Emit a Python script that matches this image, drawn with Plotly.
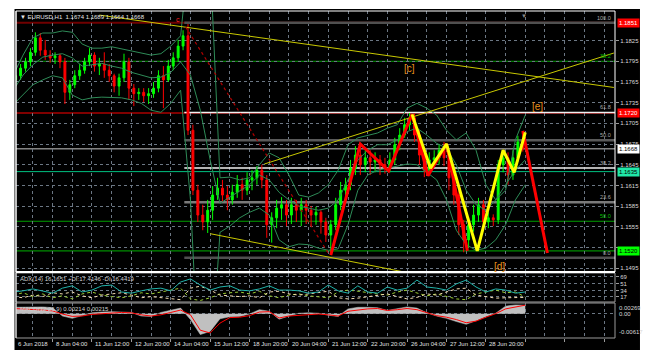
import plotly.graph_objects as go
from plotly.subplots import make_subplots

# ---------------- data ----------------
# time axis: hourly bar index counted from 6 Jun 20:00 (H1 chart, candles aggregated to 4h)
candle_bar = list(range(2, 418, 4))
open_ = [1.1768, 1.1774, 1.1785, 1.1794, 1.1808, 1.1829, 1.1811, 1.1804, 1.1800, 1.1803,
         1.1794, 1.1750, 1.1761, 1.1774, 1.1782, 1.1794, 1.1804, 1.1788, 1.1791, 1.1782,
         1.1774, 1.1759, 1.1771, 1.1794, 1.1756, 1.1748, 1.1750, 1.1745, 1.1748, 1.1756,
         1.1774, 1.1768, 1.1788, 1.1800, 1.1817, 1.1832, 1.1695, 1.1608, 1.1572, 1.1562,
         1.1579, 1.1601, 1.1611, 1.1601, 1.1594, 1.1605, 1.1616, 1.1608, 1.1623, 1.1626,
         1.1637, 1.1623, 1.1558, 1.1568, 1.1582, 1.1587, 1.1572, 1.1587, 1.1579, 1.1587,
         1.1579, 1.1572, 1.1576, 1.1562, 1.1543, 1.1558, 1.1587, 1.1608, 1.1616, 1.1640,
         1.1659, 1.1645, 1.1655, 1.1649, 1.1652, 1.1645, 1.1640, 1.1652, 1.1674, 1.1688,
         1.1703, 1.1713, 1.1688, 1.1659, 1.1637, 1.1652, 1.1655, 1.1666, 1.1655, 1.1626,
         1.1601, 1.1558, 1.1536, 1.1558, 1.1572, 1.1587, 1.1562, 1.1568, 1.1565, 1.1645,
         1.1655, 1.1630, 1.1655, 1.1678]
high = [1.1780, 1.1791, 1.1800, 1.1814, 1.1837, 1.1836, 1.1826, 1.1811, 1.1808, 1.1806,
        1.1800, 1.1768, 1.1782, 1.1791, 1.1800, 1.1814, 1.1808, 1.1800, 1.1808, 1.1791,
        1.1777, 1.1777, 1.1806, 1.1800, 1.1762, 1.1756, 1.1756, 1.1756, 1.1765, 1.1782,
        1.1788, 1.1797, 1.1808, 1.1826, 1.1840, 1.1849, 1.1703, 1.1616, 1.1587, 1.1594,
        1.1614, 1.1626, 1.1623, 1.1614, 1.1616, 1.1630, 1.1626, 1.1634, 1.1637, 1.1643,
        1.1645, 1.1630, 1.1576, 1.1594, 1.1598, 1.1594, 1.1597, 1.1594, 1.1597, 1.1594,
        1.1585, 1.1584, 1.1579, 1.1568, 1.1565, 1.1597, 1.1620, 1.1626, 1.1652, 1.1672,
        1.1674, 1.1666, 1.1666, 1.1663, 1.1659, 1.1655, 1.1663, 1.1684, 1.1698, 1.1713,
        1.1720, 1.1719, 1.1695, 1.1669, 1.1663, 1.1666, 1.1675, 1.1678, 1.1659, 1.1634,
        1.1608, 1.1565, 1.1568, 1.1587, 1.1597, 1.1594, 1.1576, 1.1573, 1.1652, 1.1666,
        1.1663, 1.1666, 1.1687, 1.1693]
low = [1.1762, 1.1768, 1.1780, 1.1788, 1.1803, 1.1803, 1.1797, 1.1793, 1.1791, 1.1785,
       1.1733, 1.1739, 1.1756, 1.1768, 1.1777, 1.1788, 1.1780, 1.1775, 1.1771, 1.1765,
       1.1750, 1.1745, 1.1765, 1.1739, 1.1730, 1.1739, 1.1736, 1.1733, 1.1742, 1.1750,
       1.1727, 1.1765, 1.1782, 1.1794, 1.1811, 1.1688, 1.1601, 1.1562, 1.1550, 1.1546,
       1.1565, 1.1594, 1.1591, 1.1579, 1.1587, 1.1597, 1.1594, 1.1601, 1.1608, 1.1616,
       1.1611, 1.1539, 1.1532, 1.1553, 1.1565, 1.1556, 1.1559, 1.1562, 1.1556, 1.1559,
       1.1556, 1.1558, 1.1545, 1.1533, 1.1514, 1.1550, 1.1579, 1.1594, 1.1608, 1.1630,
       1.1630, 1.1634, 1.1630, 1.1634, 1.1630, 1.1632, 1.1634, 1.1645, 1.1666, 1.1684,
       1.1695, 1.1678, 1.1645, 1.1627, 1.1630, 1.1642, 1.1645, 1.1643, 1.1608, 1.1587,
       1.1543, 1.1518, 1.1524, 1.1548, 1.1562, 1.1553, 1.1553, 1.1556, 1.1559, 1.1634,
       1.1616, 1.1623, 1.1649, 1.1664]
close = [1.1774, 1.1785, 1.1794, 1.1808, 1.1829, 1.1811, 1.1804, 1.1800, 1.1803, 1.1794,
         1.1750, 1.1761, 1.1774, 1.1782, 1.1794, 1.1804, 1.1788, 1.1791, 1.1782, 1.1774,
         1.1759, 1.1771, 1.1794, 1.1756, 1.1748, 1.1750, 1.1745, 1.1748, 1.1756, 1.1774,
         1.1768, 1.1788, 1.1800, 1.1817, 1.1832, 1.1695, 1.1608, 1.1572, 1.1562, 1.1579,
         1.1601, 1.1611, 1.1601, 1.1594, 1.1605, 1.1616, 1.1608, 1.1623, 1.1626, 1.1637,
         1.1623, 1.1558, 1.1568, 1.1582, 1.1587, 1.1572, 1.1587, 1.1579, 1.1587, 1.1579,
         1.1572, 1.1576, 1.1562, 1.1543, 1.1558, 1.1587, 1.1608, 1.1616, 1.1640, 1.1659,
         1.1645, 1.1655, 1.1649, 1.1652, 1.1645, 1.1640, 1.1652, 1.1674, 1.1688, 1.1703,
         1.1713, 1.1688, 1.1659, 1.1637, 1.1652, 1.1655, 1.1666, 1.1655, 1.1626, 1.1601,
         1.1558, 1.1536, 1.1558, 1.1572, 1.1587, 1.1562, 1.1568, 1.1565, 1.1645, 1.1655,
         1.1630, 1.1655, 1.1678, 1.1668]

# indicators sampled every 8 bars
ind_bar = list(range(0, 417, 8))
bb_upper = [1.1775, 1.1804, 1.1829, 1.1836, 1.1836, 1.1839, 1.1837, 1.1820, 1.1814, 1.1814,
            1.1816, 1.1813, 1.1810, 1.1807, 1.1804, 1.1806, 1.1817, 1.1832, 1.1971, 1.2014,
            1.1942, 1.1626, 1.1627, 1.1623, 1.1626, 1.1645, 1.1662, 1.1655, 1.1630, 1.1601,
            1.1598, 1.1604, 1.1616, 1.1637, 1.1674, 1.1684, 1.1688, 1.1691, 1.1698, 1.1703,
            1.1727, 1.1734, 1.1727, 1.1717, 1.1695, 1.1681, 1.1691, 1.1666, 1.1616, 1.1594,
            1.1608, 1.1681, 1.1717]
bb_mid = [1.1753, 1.1775, 1.1790, 1.1801, 1.1804, 1.1806, 1.1800, 1.1788, 1.1790, 1.1792,
          1.1788, 1.1785, 1.1779, 1.1775, 1.1771, 1.1772, 1.1779, 1.1794, 1.1775, 1.1724,
          1.1652, 1.1589, 1.1598, 1.1608, 1.1616, 1.1630, 1.1623, 1.1605, 1.1594, 1.1585,
          1.1582, 1.1579, 1.1582, 1.1594, 1.1623, 1.1652, 1.1666, 1.1674, 1.1674, 1.1681,
          1.1693, 1.1698, 1.1688, 1.1676, 1.1669, 1.1645, 1.1608, 1.1587, 1.1579, 1.1594,
          1.1616, 1.1637, 1.1652]
bb_lower = [1.1732, 1.1746, 1.1761, 1.1768, 1.1774, 1.1771, 1.1746, 1.1739, 1.1742, 1.1743,
            1.1742, 1.1742, 1.1739, 1.1734, 1.1724, 1.1721, 1.1734, 1.1753, 1.1594, 1.1304,
            1.1333, 1.1547, 1.1556, 1.1568, 1.1576, 1.1582, 1.1572, 1.1536, 1.1526, 1.1530,
            1.1529, 1.1524, 1.1521, 1.1523, 1.1558, 1.1608, 1.1630, 1.1637, 1.1640, 1.1643,
            1.1646, 1.1645, 1.1634, 1.1623, 1.1594, 1.1550, 1.1529, 1.1521, 1.1524, 1.1536,
            1.1558, 1.1594, 1.1616]
adx_main = [30, 33, 38, 33, 27, 40, 46, 30, 35, 46, 48, 30, 27, 33, 38, 40, 33, 56, 64, 48,
            35, 43, 46, 35, 33, 38, 46, 35, 35, 33, 27, 30, 48, 33, 27, 46, 30, 27, 43, 35,
            40, 61, 43, 40, 35, 51, 61, 43, 30, 38, 35, 27, 30]
adx_plus = [22, 28, 18, 25, 15, 20, 12, 25, 30, 22, 18, 15, 20, 28, 25, 30, 35, 40, 12, 8,
            15, 25, 28, 30, 25, 32, 20, 15, 22, 25, 20, 18, 15, 30, 35, 32, 28, 25, 22, 30,
            35, 28, 20, 25, 18, 12, 10, 25, 30, 35, 28, 30, 17]
adx_minus = [18, 15, 22, 18, 28, 25, 30, 20, 15, 22, 25, 28, 22, 15, 18, 15, 12, 10, 40, 45,
             35, 22, 20, 18, 20, 15, 30, 32, 25, 22, 25, 28, 32, 15, 12, 14, 18, 22, 25, 18,
             12, 16, 25, 22, 30, 38, 40, 22, 18, 14, 15, 16, 16]
macd_main = [0.0016, 0.0016, 0.0017, 0.0017, 0.0015, -0.0006, -0.0012, -0.0004, 0.0002, 0.0004,
             0.0005, 0.0004, 0.0003, -0.0006, -0.0007, 0.0003, 0.0009, 0.0014, -0.0015, -0.0053,
             -0.0045, -0.0013, -0.0008, -0.0007, -0.0001, 0.0010, 0.0006, -0.0014, -0.0006, 0.0001,
             0.0002, 0.0001, -0.0004, -0.0007, 0.0012, 0.0016, 0.0016, 0.0015, 0.0008, 0.0012,
             0.0017, 0.0014, 0.0002, -0.0006, -0.0012, -0.0020, -0.0027, -0.0018, -0.0007, 0.0001,
             0.0019, 0.0022, 0.00214]
macd_signal = [0.0013, 0.0012, 0.0010, 0.0009, 0.0007, -0.0001, -0.0007, -0.0006, -0.0002, 0.0000,
               0.0002, 0.0003, 0.0002, -0.0003, -0.0006, -0.0003, 0.0003, 0.0009, -0.0003, -0.0042,
               -0.0049, -0.0024, -0.0010, -0.0009, -0.0005, 0.0004, 0.0005, -0.0011, -0.0006, -0.0004,
               -0.0002, -0.0001, -0.0003, -0.0006, 0.0006, 0.0009, 0.0012, 0.0013, 0.0008, 0.0010,
               0.0013, 0.0010, 0.0002, -0.0005, -0.0009, -0.0015, -0.0023, -0.0019, -0.0009, 0.0000,
               0.0012, 0.0017, 0.00215]

# wave zigzags (bar index, price)
zz_red_bar = [258, 282, 305, 324, 337, 352, 369]
zz_red_px = [1.1514, 1.1675, 1.1636, 1.1718, 1.1629, 1.1675, 1.1520]
zz_red2_bar = [414, 434]
zz_red2_px = [1.1694, 1.1517]
zz_yel_bar = [324, 339, 352, 377, 398, 407, 416]
zz_yel_px = [1.1718, 1.1640, 1.1675, 1.1520, 1.1666, 1.1634, 1.1692]

# trend lines (bar, price pairs)
tl_upper_bar, tl_upper_px = [70, 488], [1.1862, 1.1757]
tl_lower_bar, tl_lower_px = [160, 316], [1.1545, 1.1490]
tl_rise_bar, tl_rise_px = [204, 488], [1.1646, 1.1807]
tl_red_bar, tl_red_px = [140, 257], [1.1845, 1.1514]

# fibonacci retracement
fib_start_bar = 139
fib_low, fib_high = 1.1510, 1.1851
fib_levels = [0.0, 23.6, 38.2, 50.0, 61.8, 100.0]
fib_colors = ['#505050', '#7a7a7a', '#f0f0f0', '#5a5a5a', '#f0f0f0', '#505050']

green_fib_px = [1.1795, 1.1563]
green_fib_txt = ['38.2', '50.0']

# horizontal price lines with boxes
price_lines = [1.1851, 1.1720, 1.1668, 1.1635, 1.1520]
price_line_col = ['#700000', '#800000', '#c8c8c8', '#00c080', '#00b000']
price_box_bg = ['#ff0000', '#ff0000', '#ffffff', '#20e8a8', '#00ff00']
price_box_fg = ['#ffffff', '#ffffff', '#000000', '#000000', '#000000']

price_ticks = [1.1495, 1.1525, 1.1555, 1.1585, 1.1615, 1.1645, 1.1675, 1.1705, 1.1735,
               1.1765, 1.1795, 1.1825]
price_tick_txt = ['1.1495', '', '1.1555', '1.1585', '1.1615', '1.1645', '1.1675', '1.1705',
                  '1.1735', '1.1765', '1.1795', '1.1825']
adx_ticks = [17, 34, 51, 69]
macd_min, macd_max = -0.00617, 0.00269

date_bar = [32, 64, 96, 128, 160, 192, 224, 256, 288, 320, 352, 384]
date_txt = ['8 Jun 04:00', '11 Jun 12:00', '12 Jun 20:00', '14 Jun 04:00', '15 Jun 12:00',
            '18 Jun 20:00', '20 Jun 04:00', '21 Jun 12:00', '22 Jun 20:00', '26 Jun 04:00',
            '27 Jun 12:00', '28 Jun 20:00']

wave_lbl = ['[c]', '[e]', '[d]']
wave_bar = [322, 426, 395]
wave_px = [1.1784, 1.1730, 1.1498]

# ---------------- figure ----------------
# the page body keeps its default 8px margin, so the figure is 16px smaller than the window
W, H = 637, 343
ML, MR, MT, MB = 8, 30, 3, 13
XMIN, XMAX = 2.27, 488.9
FONT = 'Liberation Sans'
GRIDC = '#6c7784'

fig = make_subplots(rows=3, cols=1, shared_xaxes=True, vertical_spacing=0.0)

fig.add_trace(go.Candlestick(
    x=candle_bar, open=open_, high=high, low=low, close=close,
    increasing=dict(line=dict(color='#00ff00', width=1), fillcolor='#00ff00'),
    decreasing=dict(line=dict(color='#ff0000', width=1), fillcolor='#ff0000'),
    whiskerwidth=0, hoverinfo='skip', showlegend=False), row=1, col=1)

for band in (bb_upper, bb_mid, bb_lower):
    fig.add_trace(go.Scatter(x=ind_bar, y=band, mode='lines',
                             line=dict(color='#2e8b57', width=1), hoverinfo='skip'), row=1, col=1)

for bx, py, col, dash, wd in [(tl_upper_bar, tl_upper_px, '#c8c800', 'solid', 1),
                              (tl_lower_bar, tl_lower_px, '#c8c800', 'solid', 1),
                              (tl_rise_bar, tl_rise_px, '#c8c800', 'solid', 1),
                              (tl_red_bar, tl_red_px, '#b00000', 'dot', 1.2)]:
    fig.add_trace(go.Scatter(x=bx, y=py, mode='lines', line=dict(color=col, width=wd, dash=dash),
                             hoverinfo='skip'), row=1, col=1)

fig.add_trace(go.Scatter(x=zz_red_bar, y=zz_red_px, mode='lines',
                         line=dict(color='#ff0000', width=3), hoverinfo='skip'), row=1, col=1)
fig.add_trace(go.Scatter(x=zz_red2_bar, y=zz_red2_px, mode='lines',
                         line=dict(color='#ff0000', width=3), hoverinfo='skip'), row=1, col=1)
fig.add_trace(go.Scatter(x=zz_yel_bar, y=zz_yel_px, mode='lines',
                         line=dict(color='#ffff00', width=3), hoverinfo='skip'), row=1, col=1)

# ADX pane
fig.add_trace(go.Scatter(x=ind_bar, y=adx_plus, mode='lines',
                         line=dict(color='#9acd32', width=1, dash='dot'), hoverinfo='skip'), row=2, col=1)
fig.add_trace(go.Scatter(x=ind_bar, y=adx_minus, mode='lines',
                         line=dict(color='#f5deb3', width=1, dash='dot'), hoverinfo='skip'), row=2, col=1)
fig.add_trace(go.Scatter(x=ind_bar, y=adx_main, mode='lines',
                         line=dict(color='#20b2aa', width=1), hoverinfo='skip'), row=2, col=1)

# MACD pane
fig.add_trace(go.Scatter(x=ind_bar, y=macd_main, mode='lines', fill='tozeroy',
                         fillcolor='#c0c0c0', line=dict(color='#c0c0c0', width=0.5),
                         hoverinfo='skip'), row=3, col=1)
fig.add_trace(go.Scatter(x=ind_bar, y=macd_signal, mode='lines',
                         line=dict(color='#ff0000', width=1), hoverinfo='skip'), row=3, col=1)

shapes = []
# black chart body
shapes.append(dict(type='rect', xref='paper', yref='paper', x0=-0.0025, x1=1.0417, y0=-0.037,
                   y1=1.006, fillcolor='black', line=dict(width=0), layer='below'))
# full-width price lines
for p, c in zip(price_lines, price_line_col):
    wd = 2 if c in ('#700000', '#800000') else 1
    shapes.append(dict(type='line', xref='paper', yref='y', x0=0, x1=1, y0=p, y1=p,
                       line=dict(color=c, width=wd), layer='between'))
for p in green_fib_px:
    shapes.append(dict(type='line', xref='paper', yref='y', x0=0, x1=1, y0=p, y1=p,
                       line=dict(color='#00a000', width=1), layer='between'))
# fibonacci levels
fib_px = [fib_low + (fib_high - fib_low) * lv / 100.0 for lv in fib_levels]
for p, c in zip(fib_px, fib_colors):
    wd = 1.3 if c == '#f0f0f0' else 2.5
    shapes.append(dict(type='line', xref='x', yref='y', x0=fib_start_bar, x1=XMAX, y0=p, y1=p,
                       line=dict(color=c, width=wd), layer='between'))
# pane frames
doms = [(0.2018, 1.0), (0.1101, 0.1988), (0.0, 0.1070)]
frame_col = ['#ffffff', '#9a9a9a', '#9a9a9a']
for (d0, d1), fc in zip(doms, frame_col):
    shapes.append(dict(type='rect', xref='paper', yref='paper', x0=0, x1=1, y0=d0, y1=d1,
                       line=dict(color=fc, width=1), fillcolor='rgba(0,0,0,0)', layer='above'))
shapes.append(dict(type='line', xref='paper', yref='paper', x0=0, x1=1, y0=0.2018, y1=0.2018,
                   line=dict(color='#ffffff', width=2), layer='above'))
shapes.append(dict(type='line', xref='paper', yref='paper', x0=0, x1=0, y0=0, y1=1,
                   line=dict(color='#ffffff', width=1), layer='above'))

ann = []
ann.append(dict(xref='paper', yref='paper', x=0, y=1, xanchor='left', yanchor='top', xshift=2,
                yshift=-1, showarrow=False, text='▼ EURUSD,H1  1.1674 1.1689 1.1664 1.1668',
                font=dict(family=FONT, size=6, color='#e6e6e6')))
ann.append(dict(xref='paper', yref='paper', x=0, y=0.1988, xanchor='left', yanchor='top', xshift=2,
                yshift=-1, showarrow=False, text='ADX(14) 16.1651 +DI:17.4146 -DI:16.4419',
                font=dict(family=FONT, size=6, color='#d0d0d0')))
ann.append(dict(xref='paper', yref='paper', x=0, y=0.1070, xanchor='left', yanchor='top', xshift=2,
                yshift=-1, showarrow=False, text='MACD(12,26,9) 0.00214 0.00215',
                font=dict(family=FONT, size=6, color='#d0d0d0')))
for p, bg, fg in zip(price_lines, price_box_bg, price_box_fg):
    ann.append(dict(xref='paper', yref='y', x=1, y=p, xanchor='left', yanchor='middle', xshift=2,
                    showarrow=False, text='%.4f' % p, bgcolor=bg, borderpad=1,
                    font=dict(family=FONT, size=6, color=fg)))
for p, lv in zip(fib_px, fib_levels):
    ann.append(dict(xref='paper', yref='y', x=1, y=p, xanchor='right', yanchor='bottom', xshift=-2,
                    showarrow=False, text='%.1f' % lv, font=dict(family=FONT, size=5.5, color='#a8a8a8')))
for p, t in zip(green_fib_px, green_fib_txt):
    ann.append(dict(xref='paper', yref='y', x=1, y=p, xanchor='right', yanchor='bottom', xshift=-2,
                    showarrow=False, text=t, font=dict(family=FONT, size=5.5, color='#00c000')))
for t, bx, p in zip(wave_lbl, wave_bar, wave_px):
    ann.append(dict(xref='x', yref='y', x=bx, y=p, showarrow=False, text=t,
                    font=dict(family=FONT, size=10, color='#e8901a')))
ann.append(dict(xref='x', yref='y', x=134, y=1.1856, showarrow=False, text='c',
                font=dict(family=FONT, size=7, color='#ff2020')))
ann.append(dict(xref='x', yref='paper', x=415, y=1, yanchor='top', showarrow=False, text='▼',
                font=dict(family=FONT, size=6, color='#8a8a8a')))
# right axis labels of MACD pane
ann.append(dict(xref='paper', yref='y3', x=1, y=macd_max, xanchor='left', yanchor='top', xshift=2,
                showarrow=False, text='0.00269', font=dict(family=FONT, size=6, color='#d8d8d8')))
ann.append(dict(xref='paper', yref='y3', x=1, y=0, xanchor='left', yanchor='middle', xshift=2,
                showarrow=False, text='0.00', font=dict(family=FONT, size=6, color='#d8d8d8')))
ann.append(dict(xref='paper', yref='y3', x=1, y=macd_min, xanchor='left', yanchor='bottom', xshift=2,
                yshift=1, showarrow=False, text='-0.00617', font=dict(family=FONT, size=6, color='#d8d8d8')))
# date labels
ann.append(dict(xref='paper', yref='paper', x=0, y=0, xanchor='left', yanchor='top', yshift=-1,
                showarrow=False, text='6 Jun 2018', font=dict(family=FONT, size=6, color='#e0e0e0')))
for bx, t in zip(date_bar, date_txt):
    ann.append(dict(xref='x3', yref='paper', x=bx, y=0, xanchor='left', yanchor='top', xshift=1.5,
                    yshift=-1, showarrow=False, text=t, font=dict(family=FONT, size=6, color='#e0e0e0')))

fig.update_layout(width=W, height=H, margin=dict(l=ML, r=MR, t=MT, b=MB, pad=0),
                  paper_bgcolor='white', plot_bgcolor='black', showlegend=False,
                  boxgap=0.45, font=dict(family=FONT, size=6, color='#d8d8d8'),
                  shapes=shapes, annotations=ann, hovermode=False)

minor = dict(dtick=16, tick0=0, showgrid=True, gridcolor=GRIDC, gridwidth=1, griddash='3px,3px')
for i, ax in enumerate(['xaxis', 'xaxis2', 'xaxis3']):
    fig.layout[ax].update(range=[XMIN, XMAX], tickmode='linear', tick0=0, dtick=32,
                          showticklabels=False, zeroline=False, showgrid=True, gridcolor=GRIDC,
                          gridwidth=1, griddash='3px,3px', minor=minor, showline=False,
                          rangeslider=dict(visible=False),
                          ticks='outside' if i == 2 else '', ticklen=3, tickcolor='#9a9a9a')

fig.layout.yaxis.update(domain=list(doms[0]), range=[1.14894, 1.18679], side='right',
                        tickmode='array', tickvals=price_ticks, ticktext=price_tick_txt,
                        ticks='outside', ticklen=3,
                        tickcolor='#9a9a9a', tickfont=dict(family=FONT, size=6, color='#d8d8d8'),
                        showgrid=True, gridcolor=GRIDC, griddash='3px,3px', zeroline=False)
fig.layout.yaxis2.update(domain=list(doms[1]), range=[4, 79.4], side='right', tickmode='array',
                         tickvals=adx_ticks, ticktext=[str(v) for v in adx_ticks], ticks='outside',
                         ticklen=3, tickcolor='#9a9a9a',
                         tickfont=dict(family=FONT, size=6, color='#d8d8d8'),
                         showgrid=True, gridcolor=GRIDC, griddash='3px,3px', zeroline=False)
fig.layout.yaxis3.update(domain=list(doms[2]), range=[macd_min, macd_max], side='right',
                         tickmode='array', tickvals=[0], showticklabels=False,
                         showgrid=True, gridcolor=GRIDC, griddash='3px,3px', zeroline=False)

fig.write_html('out.html')
